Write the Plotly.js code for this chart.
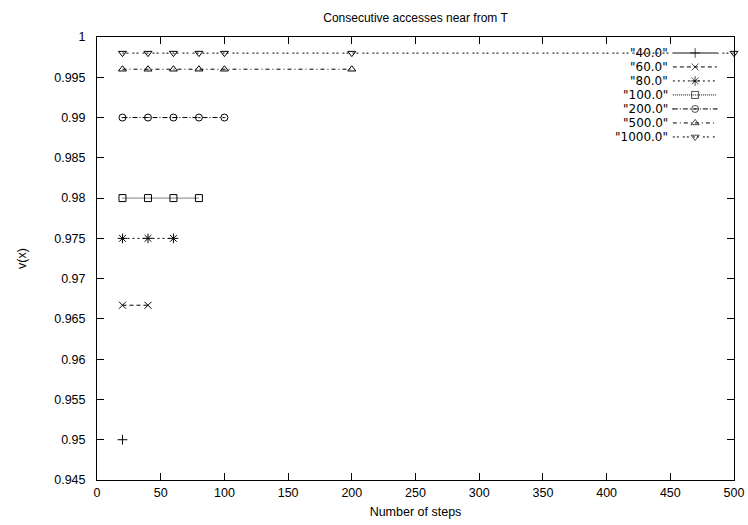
<!DOCTYPE html>
<html>
<head>
<meta charset="utf-8">
<script src="https://cdn.plot.ly/plotly-3.0.1.min.js"></script>
<style>html,body{margin:0;padding:0;background:#fff;}#chart{width:748px;height:525px;}</style>
</head>
<body>
<div id="chart"></div>
<script>
// ---- data ----
var seriesNames = ['"40.0"', '"60.0"', '"80.0"', '"100.0"', '"200.0"', '"500.0"', '"1000.0"'];
var x40 = [20];
var y40 = [0.95];
var x60 = [20, 40];
var y60 = [0.9667, 0.9667];
var x80 = [20, 40, 60];
var y80 = [0.975, 0.975, 0.975];
var x100 = [20, 40, 60, 80];
var y100 = [0.98, 0.98, 0.98, 0.98];
var x200 = [20, 40, 60, 80, 100];
var y200 = [0.99, 0.99, 0.99, 0.99, 0.99];
var x500 = [20, 40, 60, 80, 100, 200];
var y500 = [0.996, 0.996, 0.996, 0.996, 0.996, 0.996];
var x1000 = [20, 40, 60, 80, 100, 200, 500];
var y1000 = [0.998, 0.998, 0.998, 0.998, 0.998, 0.998, 0.998];
var titleText = 'Consecutive accesses near from T';
var xTitle = 'Number of steps';
var yTitle = 'v(x)';

// ---- styles ----
var xs = [x40, x60, x80, x100, x200, x500, x1000];
var ys = [y40, y60, y80, y100, y200, y500, y1000];
var symbols = ['cross-thin-open', 'x-thin-open', 'asterisk-open', 'square-open', 'circle-open-dot', 'triangle-up-open', 'triangle-down-open'];
var dashes = ['solid', '4px,3px', '2px,3px', '1px,1px', '5px,2px,1px,2px', '4px,3px,1px,3px', '2px,2px,2px,4px'];
var lineColors = ['#888', '#000', '#000', '#000', '#000', '#000', '#000'];
var sizes = [7, 7, 8, 7, 7, 7, 7];
var FONT = 'Liberation Sans, Arial, sans-serif';

var traces = [];
for (var i = 0; i < seriesNames.length; i++) {
  traces.push({
    x: xs[i], y: ys[i], type: 'scatter', mode: 'lines+markers',
    name: seriesNames[i], showlegend: false, cliponaxis: false,
    line: {color: '#000', width: 1, dash: dashes[i]},
    marker: {symbol: symbols[i], size: sizes[i], color: '#000', line: {width: 1, color: '#000'}}
  });
}
// custom gnuplot-style legend (sample drawn right of label)
var annotations = [];
var top0 = 0.964, step = 0.0316;
for (var j = 0; j < seriesNames.length; j++) {
  var yy = top0 - j * step;
  traces.push({
    x: [0.904, 0.939, 0.973], y: [yy, yy, yy], xaxis: 'x2', yaxis: 'y2',
    type: 'scatter', mode: 'lines+markers', showlegend: false, hoverinfo: 'skip', cliponaxis: false,
    line: {color: lineColors[j], width: j === 0 ? 2 : 1, dash: dashes[j]},
    marker: {symbol: symbols[j], size: [0, sizes[j], 0], color: '#000', line: {width: 1, color: '#000'}}
  });
  annotations.push({
    text: seriesNames[j], xref: 'paper', yref: 'paper', x: 0.898, y: yy,
    xanchor: 'right', yanchor: 'middle', showarrow: false, borderpad: 0,
    font: {family: 'DejaVu Sans, sans-serif', size: 12, color: '#000'}
  });
}

var axisCommon = {
  showline: true, linecolor: '#000', linewidth: 1, mirror: 'ticks',
  ticks: 'inside', ticklen: 7, tickcolor: '#000', tickwidth: 1,
  showgrid: false, zeroline: false,
  tickfont: {family: FONT, size: 12.5, color: '#000'}
};

var layout = {
  width: 748, height: 525,
  margin: {l: 97, r: 14, t: 37, b: 45},
  paper_bgcolor: '#fff', plot_bgcolor: '#fff',
  showlegend: false,
  font: {family: FONT, size: 12, color: '#000'},
  title: {text: titleText, x: 0.5555, xanchor: 'center', y: 0.967, yanchor: 'middle',
          font: {family: FONT, size: 12, color: '#000'}},
  xaxis: Object.assign({}, axisCommon, {
    range: [0, 500], dtick: 50, tick0: 0, ticklabelstandoff: 1,
    title: {text: xTitle, standoff: 8, font: {family: FONT, size: 12.5, color: '#000'}}
  }),
  yaxis: Object.assign({}, axisCommon, {
    range: [0.945, 1], dtick: 0.005, tick0: 0.945, ticklabelstandoff: 8,
    title: {text: yTitle, standoff: 24, font: {family: FONT, size: 12.5, color: '#000'}}
  }),
  xaxis2: {overlaying: 'x', range: [0, 1], visible: false, fixedrange: true},
  yaxis2: {overlaying: 'y', range: [0, 1], visible: false, fixedrange: true},
  annotations: annotations
};

Plotly.newPlot('chart', traces, layout, {displayModeBar: false, staticPlot: true});
</script>
</body>
</html>
